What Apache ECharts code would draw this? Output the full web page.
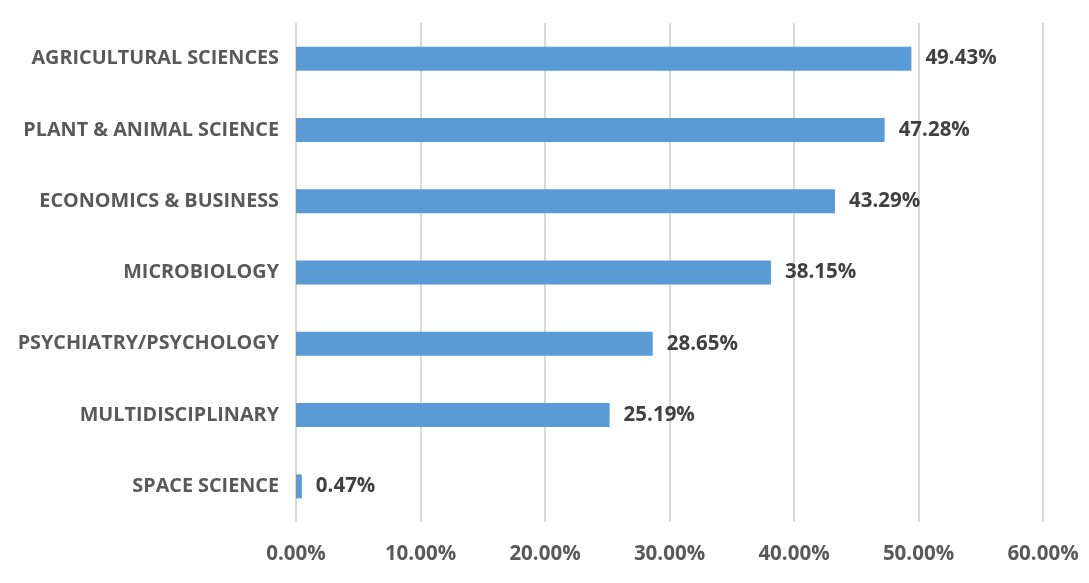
<!DOCTYPE html>
<html><head><meta charset="utf-8">
<script src="https://cdn.jsdelivr.net/npm/echarts@6/dist/echarts.min.js"></script>
<style>html,body{margin:0;padding:0;background:#fff}#c{width:1089px;height:583px}</style>
</head><body><div id="c"></div>
<script>
const categories = ["AGRICULTURAL SCIENCES","PLANT & ANIMAL SCIENCE","ECONOMICS & BUSINESS","MICROBIOLOGY","PSYCHIATRY/PSYCHOLOGY","MULTIDISCIPLINARY","SPACE SCIENCE"];
const values = [49.43, 47.28, 43.29, 38.15, 28.65, 25.19, 0.47];
const xTicks = [0, 10, 20, 30, 40, 50, 60];

const FONT = "Open Sans";
const chart = echarts.init(document.getElementById('c'), null, {renderer:'canvas'});
chart.setOption({
  animation:false,
  grid:{left:296, right:46, top:23, bottom:61, containLabel:false},
  xAxis:{type:'value', min:xTicks[0], max:xTicks[xTicks.length-1], interval:10,
    axisLine:{show:false}, axisTick:{show:false},
    splitLine:{show:true, lineStyle:{color:'#d9d9d9', width:2}},
    axisLabel:{formatter:v=>v.toFixed(2)+'%', color:'#595959', fontFamily:FONT, fontWeight:'bold', fontSize:20.5, margin:22}},
  yAxis:{type:'category', inverse:true, data:categories,
    axisLine:{show:false}, axisTick:{show:false},
    axisLabel:{color:'#595959', fontFamily:FONT, fontWeight:'bold', fontSize:19.8, margin:17}},
  series:[{type:'bar', data:values, barWidth:24, itemStyle:{color:'#5b9bd5'},
    label:{show:true, position:'right', distance:14, formatter:p=>p.value.toFixed(2)+'%',
      color:'#404040', fontFamily:FONT, fontWeight:'bold', fontSize:20.5}}]
});
</script></body></html>
